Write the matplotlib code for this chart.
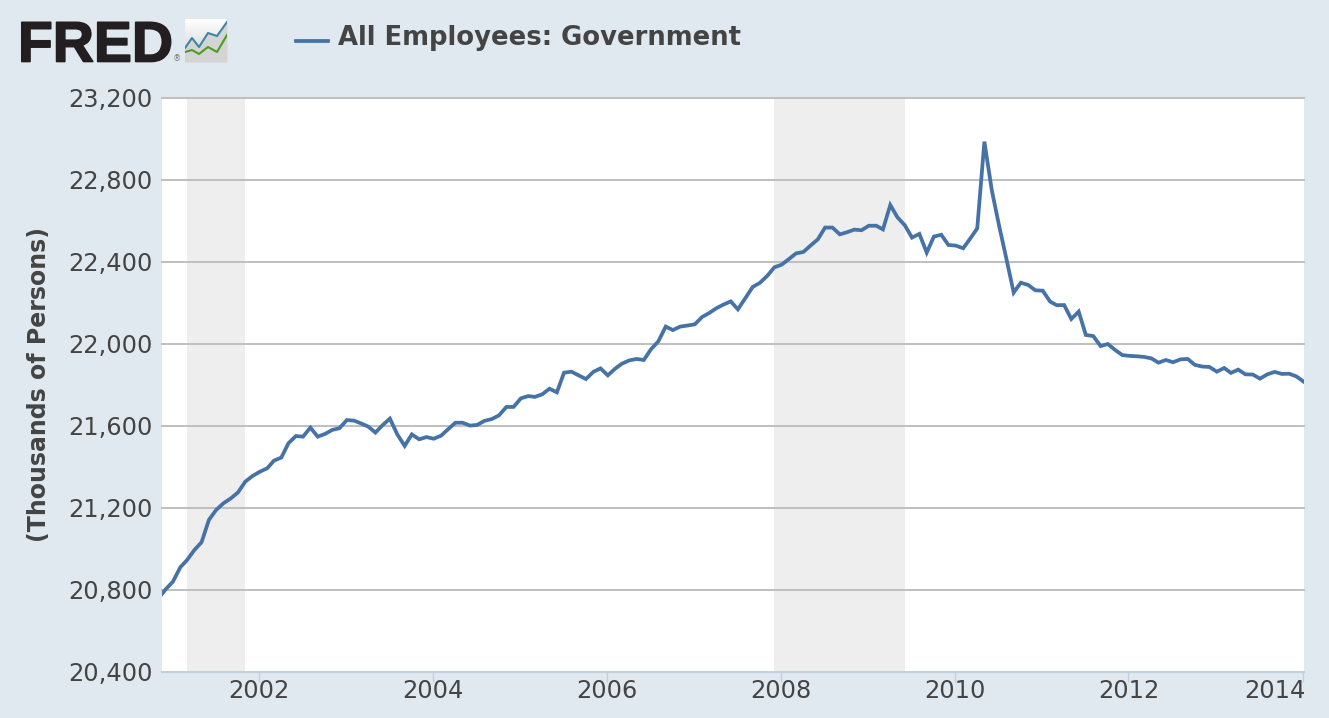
import numpy as np
import pandas as pd
import matplotlib
matplotlib.use("Agg")
import matplotlib.pyplot as plt
import matplotlib.patheffects as pe
from matplotlib.transforms import ScaledTranslation

W, H = 1329, 718

# monthly values, Nov 2000 .. Jan 2014 (thousands of persons)
values = [
    20759, 20803,
    20841, 20911, 20946, 20995, 21033, 21142, 21190, 21223, 21247, 21276, 21329, 21356,
    21377, 21394, 21431, 21446, 21516, 21551, 21548, 21592, 21548, 21561, 21581, 21589,
    21629, 21626, 21613, 21597, 21568, 21605, 21636, 21559, 21503, 21559, 21535, 21546,
    21538, 21553, 21584, 21616, 21616, 21602, 21605, 21625, 21634, 21652, 21693, 21693,
    21735, 21746, 21742, 21755, 21782, 21764, 21860, 21865, 21847, 21829, 21864, 21881,
    21847, 21880, 21904, 21920, 21927, 21922, 21974, 22013, 22085, 22068, 22085, 22090,
    22096, 22132, 22150, 22174, 22192, 22208, 22169, 22223, 22278, 22298, 22332, 22374,
    22387, 22415, 22442, 22449, 22480, 22511, 22568, 22568, 22535, 22545, 22558, 22555,
    22577, 22577, 22559, 22678, 22618, 22579, 22519, 22537, 22446, 22524, 22533, 22483,
    22480, 22467, 22512, 22564, 22987, 22751, 22581, 22418, 22251, 22299, 22288, 22262,
    22260, 22207, 22189, 22190, 22122, 22158, 22044, 22039, 21990, 22000, 21971, 21946,
    21942, 21940, 21937, 21930, 21909, 21922, 21911, 21925, 21927, 21898, 21890, 21888,
    21865, 21883, 21859, 21875, 21852, 21851, 21831, 21852, 21864, 21854, 21855, 21842,
    21816,
]
# the reference draws its points a few days after the first of the month
months = pd.date_range("2000-11-01", periods=len(values), freq="MS") + pd.Timedelta(days=5)

recessions = [("2001-03-06", "2001-11-06"), ("2007-12-03", "2009-06-05")]
y_ticks = [20400, 20800, 21200, 21600, 22000, 22400, 22800, 23200]
x_years = [2002, 2004, 2006, 2008, 2010, 2012, 2014]

series_name = "All Employees: Government"
y_title = "(Thousands of Persons)"

BG = "#E1E9F0"
BLUE = "#4572A7"
TEXT = "#444444"


def fx(x):
    return x / W


def fy(y):
    return 1 - y / H


fig = plt.figure(figsize=(W / 100, H / 100), dpi=100, facecolor=BG)
ax = fig.add_axes([fx(162), fy(672), (1304 - 162) / W, (672 - 98) / H])
ax.set_facecolor("white")

for start, end in recessions:
    ax.axvspan(pd.Timestamp(start), pd.Timestamp(end), color="#EEEEEE", lw=0, zorder=0)

ax.plot(months, values, color=BLUE, lw=2.7, solid_joinstyle="miter", zorder=3)

ax.set_xlim(pd.Timestamp("2000-11-21"), pd.Timestamp("2014-01-07"))
ax.set_ylim(20400, 23200)

ax.set_yticks(y_ticks)
ax.set_yticklabels([f"{v:,}" for v in y_ticks], fontsize=17.4, color=TEXT)
ax.tick_params(axis="y", length=0, pad=7)
ax.grid(axis="y", color="#C0C0C0", lw=1.45)
ax.set_axisbelow(True)
for line in ax.get_ygridlines():
    line.set_clip_on(False)

ax.set_xticks([pd.Timestamp(f"{y}-01-01") for y in x_years])
ax.set_xticklabels([str(y) for y in x_years], fontsize=17.4, color=TEXT)
ax.tick_params(axis="x", length=7, width=0.9, color="#C0D0E0", pad=-2)
last = ax.get_xticklabels()[-1]
last.set_ha("right")
last.set_transform(last.get_transform() + ScaledTranslation(2 / 72, 0, fig.dpi_scale_trans))

for side in ["top", "left", "right"]:
    ax.spines[side].set_visible(False)
ax.spines["bottom"].set_color("#C0D0E0")
ax.spines["bottom"].set_linewidth(1.45)

fig.text(fx(39), fy(385), y_title, rotation=90, ha="center", va="center",
         fontsize=17, fontweight="bold", color=TEXT)

# legend
fig.add_artist(plt.Line2D([fx(296), fx(328)], [fy(40.7), fy(40.7)], color=BLUE, lw=2.7))
fig.text(fx(338), fy(38), series_name, ha="left", va="center",
         fontsize=18.65, fontweight="bold", color=TEXT)

# logo
fig.text(fx(18), fy(61.5), "FRED", ha="left", va="baseline", fontsize=41,
         family="Liberation Sans", fontweight="bold", color="#231F20",
         path_effects=[pe.withStroke(linewidth=1.2, foreground="#231F20")])
fig.text(fx(177), fy(59), "\u00ae", ha="center", va="center", fontsize=6, color="#777777")

icon = fig.add_axes([fx(185), fy(62), 42 / W, 43 / H])
icon.axis("off")
icon.imshow(np.linspace(1, 0.8, 50).reshape(-1, 1), cmap="gray", vmin=0, vmax=1,
            aspect="auto", extent=[0, 42, 0, 43])
icon_x = [0, 7, 14, 23, 32, 42]
icon_blue = [14, 24, 15, 29, 26, 40]
icon_green = [10, 12, 8, 15, 10, 27]
icon.fill_between(icon_x, icon_blue, 0, color="#D4D4D4", lw=0)
icon.plot(icon_x, icon_blue, color="#3C86A6", lw=1.5)
icon.plot(icon_x, icon_green, color="#4AA01E", lw=1.5)
icon.set_xlim(0, 42)
icon.set_ylim(0, 43)

fig.savefig("out.png", dpi=100, facecolor=BG)
